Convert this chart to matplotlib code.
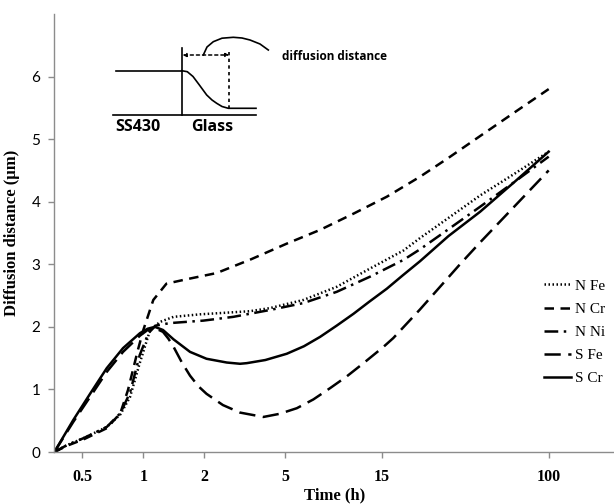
import matplotlib
matplotlib.use("Agg")
import matplotlib.pyplot as plt
from matplotlib.lines import Line2D
import numpy as np

# ---------------- data ----------------
tick_times = [0.5, 1, 2, 5, 15, 100]
tick_labels = ["0.5", "1", "2", "5", "15", "100"]

t_nfe = [0.364, 0.42, 0.506, 0.66, 0.77, 0.86, 0.96, 1.08, 1.21, 1.41, 1.9, 2.39, 3.35, 4.22, 6.16, 9.0, 13.1, 19.2, 23.2, 32.0, 45.9, 68.0, 100]
v_nfe = [0.0, 0.11, 0.22, 0.40, 0.60, 0.88, 1.42, 1.95, 2.08, 2.16, 2.20, 2.22, 2.25, 2.30, 2.43, 2.64, 2.93, 3.22, 3.42, 3.74, 4.10, 4.45, 4.80]

t_ncr = [0.364, 0.42, 0.506, 0.66, 0.77, 0.84, 0.94, 1.0, 1.12, 1.3, 1.63, 2.3, 3.4, 5.1, 7.45, 10.9, 15.9, 23.2, 32.0, 45.9, 68.0, 100]
v_ncr = [0.0, 0.10, 0.20, 0.38, 0.62, 0.99, 1.63, 1.95, 2.43, 2.69, 2.76, 2.86, 3.08, 3.33, 3.55, 3.81, 4.08, 4.40, 4.70, 5.05, 5.43, 5.80]

t_nni = [0.364, 0.42, 0.506, 0.66, 0.77, 0.86, 0.96, 1.06, 1.15, 1.35, 1.98, 2.78, 4.22, 6.16, 9.0, 13.1, 19.2, 23.2, 32.0, 45.9, 68.0, 100]
v_nni = [0.0, 0.11, 0.22, 0.40, 0.62, 0.95, 1.55, 1.90, 2.02, 2.06, 2.10, 2.16, 2.27, 2.38, 2.56, 2.80, 3.07, 3.24, 3.56, 3.92, 4.32, 4.72]

t_sfe = [0.364, 0.451, 0.546, 0.66, 0.794, 0.963, 1.05, 1.14, 1.25, 1.33, 1.41, 1.55, 1.70, 1.87, 2.05, 2.47, 3.0, 3.91, 4.7, 5.72, 6.9, 8.34, 10.1, 12.2, 15.3, 17.1, 23.2, 36.5, 45.9, 68.0, 100]
v_sfe = [0.0, 0.48, 0.88, 1.28, 1.60, 1.86, 1.95, 1.98, 1.92, 1.81, 1.68, 1.43, 1.22, 1.05, 0.93, 0.75, 0.63, 0.56, 0.61, 0.70, 0.84, 1.02, 1.21, 1.42, 1.68, 1.82, 2.28, 3.00, 3.35, 3.93, 4.50]

t_scr = [0.364, 0.451, 0.546, 0.66, 0.794, 0.963, 1.05, 1.14, 1.25, 1.41, 1.70, 2.05, 2.58, 3.0, 3.24, 4.0, 5.1, 6.2, 7.45, 9.0, 10.9, 13.0, 15.9, 19.0, 23.2, 32.0, 45.9, 68.0, 100]
v_scr = [0.0, 0.51, 0.93, 1.34, 1.66, 1.90, 1.97, 2.00, 1.95, 1.80, 1.60, 1.49, 1.43, 1.41, 1.42, 1.47, 1.57, 1.69, 1.84, 2.02, 2.21, 2.40, 2.61, 2.82, 3.05, 3.45, 3.84, 4.32, 4.80]

series_names = ["N Fe", "N Cr", "N Ni", "S Fe", "S Cr"]

# ---------------- figure ----------------
W, H = 614, 504
fig = plt.figure(figsize=(W / 100, H / 100), dpi=100)
ax = fig.add_axes([54.3 / W, 1 - 452 / H, (W - 54.3) / W, 438 / H])

lw = 1.8
ax.plot(t_nfe, v_nfe, color="black", lw=lw, linestyle=(0, (0.6, 1.0)), label=series_names[0])
ax.plot(t_ncr, v_ncr, color="black", lw=lw, linestyle=(0, (3.8, 2.6)), label=series_names[1])
ax.plot(t_nni, v_nni, color="black", lw=lw, linestyle=(0, (5.5, 2.2, 1.0, 2.2)), label=series_names[2])
ax.plot(t_sfe, v_sfe, color="black", lw=lw, linestyle=(0, (6.5, 3.0)), label=series_names[3])
ax.plot(t_scr, v_scr, color="black", lw=lw, linestyle="-", label=series_names[4])

ax.set_xscale("log")
ax.set_xlim(0.3637, 210)
ax.set_ylim(0, 7)
ax.set_xticks(tick_times)
ax.set_xticklabels(tick_labels, fontfamily="Liberation Serif", fontweight="bold", fontsize=11.5)
ax.xaxis.set_minor_locator(matplotlib.ticker.NullLocator())
ax.set_yticks(range(0, 7))
ax.set_yticklabels([str(i) for i in range(0, 7)], fontfamily="Lato", fontsize=11)

for s in ["top", "right"]:
    ax.spines[s].set_visible(False)
for s in ["left", "bottom"]:
    ax.spines[s].set_color("#8c8c8c")
    ax.spines[s].set_linewidth(1.0)
ax.tick_params(axis="both", colors="#8c8c8c", length=4, width=1.0, labelcolor="black")
ax.tick_params(axis="x", pad=8)
ax.tick_params(axis="y", pad=6)

ax.set_xlabel("Time (h)", fontfamily="Liberation Serif", fontweight="bold", fontsize=12, labelpad=2)
ax.set_ylabel("Diffusion distance (\u03bcm)", fontfamily="Liberation Serif", fontweight="bold", fontsize=12, labelpad=8)

leg = ax.legend(loc="upper left", bbox_to_anchor=((538 - 54.3) / (W - 54.3), (452 - 273) / 438),
                frameon=False, prop={"family": "Liberation Serif", "size": 11},
                handlelength=1.75, handletextpad=0.25, labelspacing=0.62, borderaxespad=0)

# ---------------- inset sketch ----------------
def P(x, y):
    return x / W, 1 - y / H

def fline(xs, ys, **kw):
    pts = [P(x, y) for x, y in zip(xs, ys)]
    fig.add_artist(Line2D([p[0] for p in pts], [p[1] for p in pts], color="black", lw=1.2, **kw))

fline([116, 181.7], [70.7, 70.7])
fline([181.7, 181.7], [48.3, 115])
fline([113.3, 256], [115, 115])
fline([181.7, 187.3, 193, 199, 206.7, 212, 216.7, 222, 228.3, 256],
      [70.7, 71.7, 76.5, 84.5, 95, 100, 103.3, 106.5, 108.3, 108.3])
fline([229.3, 229.3], [52, 108.3], linestyle=(0, (2, 2)))
ax.annotate("", xy=P(229.3, 55), xytext=P(182.5, 55), xycoords="figure fraction",
            textcoords="figure fraction",
            arrowprops=dict(arrowstyle="<|-|>", linestyle=(0, (2, 2)), lw=1.1, color="black",
                            mutation_scale=5, shrinkA=0, shrinkB=0))
fline([203.3, 207, 213.3, 222, 233.3, 242, 250, 260, 268.3],
      [55, 47, 41.7, 38.2, 37.3, 38, 40, 44, 50])

fig.text(*P(282.5, 57), "diffusion distance", fontfamily="Open Sans", fontweight="bold",
         fontsize=8.5, ha="left", va="center")
fig.text(*P(115.5, 127), "SS430", fontfamily="Open Sans", fontweight="bold",
         fontsize=11.5, ha="left", va="center")
fig.text(*P(191, 127), "Glass", fontfamily="Open Sans", fontweight="bold",
         fontsize=11.5, ha="left", va="center")

fig.savefig("out.png", dpi=100)
